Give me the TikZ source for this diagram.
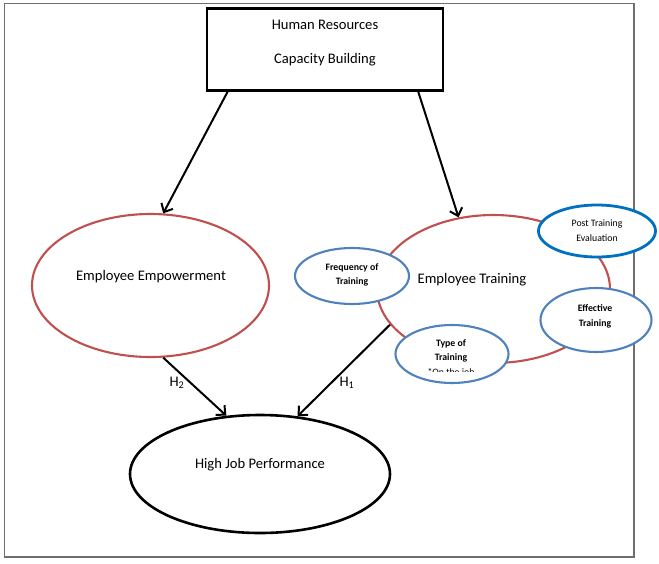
\documentclass[tikz,border=0pt]{standalone}
\usepackage{fontspec}
\setmainfont{Carlito}
\usetikzlibrary{shapes.geometric,arrows.meta,calc}
\definecolor{ored}{HTML}{C0504D}
\definecolor{oblue}{HTML}{4F81BD}
\definecolor{dblue}{HTML}{0070C0}
\definecolor{framegray}{HTML}{6E6E6E}
\begin{document}
\begin{tikzpicture}[x=1pt,y=-1pt,
  ell/.style={ellipse,inner sep=0pt,fill=white},
  redell/.style={ell,draw=ored,line width=2.1pt},
  blueell/.style={ell,draw=oblue,line width=2.1pt},
  bigtxt/.style={font=\fontsize{14.6}{16}\selectfont,inner sep=0pt},
  smalltxt/.style={font=\fontsize{9.8}{14.5}\selectfont\bfseries,align=center,inner sep=0pt},
  arr/.style={line width=2pt,-{Straight Barb[length=7pt,width=13pt,line width=2pt]}},
  hlab/.style={font=\fontsize{14.6}{16}\selectfont,inner sep=0pt}]
\useasboundingbox (0,0) rectangle (659,563);
\fill[white] (0,0) rectangle (659,563);
% outer frame
\draw[framegray,line width=1.4pt] (4.5,3.5) rectangle (634,557);
% top box
\node[draw,line width=2.4pt,minimum width=236pt,minimum height=82pt,inner sep=0pt] (hr) at (325,49.5) {};
\node[bigtxt] (hrt1) at (325,25) {Human Resources};
\node[bigtxt] (hrt2) at (325,60) {Capacity Building};
% main ellipses
\node[redell,minimum width=237pt,minimum height=143pt] (emp) at (150.5,285.5) {};
\node[bigtxt] (empt) at (151,277) {Employee Empowerment};
\node[redell,minimum width=233pt,minimum height=148pt] (tr) at (493.5,289) {};
\node[bigtxt] (trt) at (472,280) {Employee Training};
\node[ell,draw=black,line width=2.6pt,minimum width=260pt,minimum height=118pt] (hjp) at (260,474) {};
\node[bigtxt] (hjpt) at (260,465) {High Job Performance};
% satellite ellipses
\node[blueell,minimum width=114pt,minimum height=56pt] (freq) at (352,276) {};
\node[smalltxt] (freqt) at (352,275) {Frequency of\\Training};
\node[ell,draw=dblue,line width=2.8pt,minimum width=117pt,minimum height=52pt] (post) at (597,231) {};
\node[smalltxt,font=\fontsize{9.8}{14.5}\selectfont] (postt) at (597,230.5) {Post Training\\Evaluation};
\node[blueell,minimum width=111pt,minimum height=64pt] (eff) at (596,320) {};
\node[smalltxt] (efft) at (595,316.5) {Effective\\Training};
\node[blueell,minimum width=113pt,minimum height=58pt] (type) at (452,354) {};
\node[smalltxt] (typet) at (451,351) {Type of\\Training};
\begin{scope}
  \clip (400,365) rectangle (505,371.5);
  \node[smalltxt,font=\fontsize{9.8}{11}\selectfont] (typet2) at (451,373) {*On the job};
\end{scope}
% connectors
\draw[arr] (228,91) -- (emp.80);
\draw[arr] (418,91) -- (tr.116);
\draw[arr] (emp.-80) -- (hjp.120);
\draw[arr] (tr.199) -- (hjp.57);
\node[hlab] (h2) at (177,383) {H\textsubscript{2}};
\node[hlab] (h1) at (347,383) {H\textsubscript{1}};
\end{tikzpicture}
\end{document}
